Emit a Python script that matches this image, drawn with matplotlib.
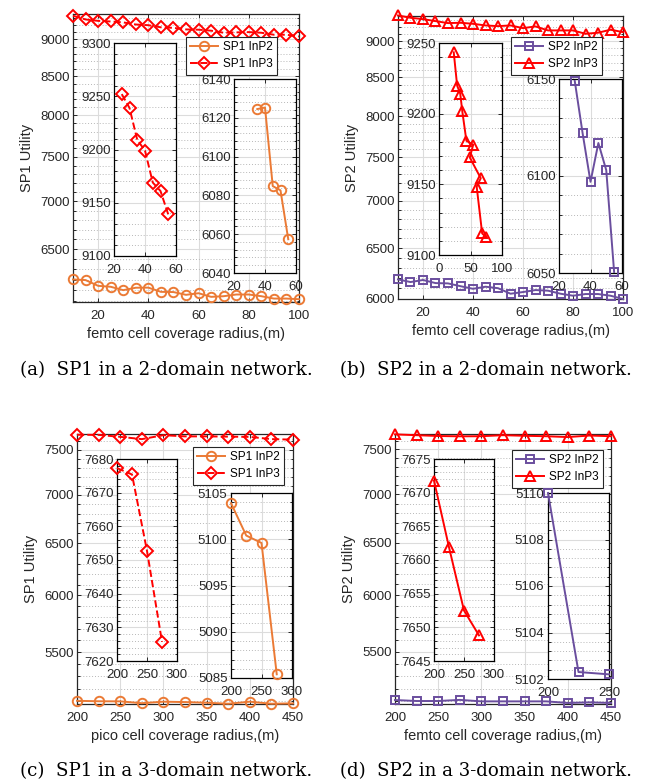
import matplotlib
matplotlib.use("Agg")
import matplotlib.pyplot as plt
from matplotlib.ticker import FixedLocator, NullFormatter, FuncFormatter

# ---- data ----
r_femto = [10, 15, 20, 25, 30, 35, 40, 45, 50, 55, 60, 65, 70, 75, 80, 85, 90, 95, 100]
r_big = [200, 225, 250, 275, 300, 325, 350, 375, 400, 425, 450]

a_inp2 = [6203, 6197, 6142, 6133, 6101, 6124, 6125, 6085, 6083, 6057, 6072, 6038,
          6044, 6060, 6060, 6044, 6022, 6022, 6016]
a_inp3 = [9334, 9281, 9261, 9252, 9239, 9209, 9199, 9169, 9161, 9139, 9135, 9121,
          9092, 9097, 9101, 9092, 9064, 9064, 9040]
b_inp2 = [6188, 6162, 6182, 6152, 6149, 6122, 6097, 6117, 6103, 6050, 6066, 6085,
          6079, 6050, 6031, 6047, 6047, 6031, 6000]
b_inp3 = [9370, 9336, 9316, 9287, 9258, 9263, 9248, 9224, 9214, 9224, 9185, 9210,
          9152, 9152, 9152, 9104, 9119, 9162, 9128]
c_inp2 = [5103.9, 5100.4, 5099.6, 5085.4, 5097, 5094, 5089, 5081, 5097, 5081, 5084]
c_inp3 = [7677.3, 7675.4, 7652.7, 7625.7, 7672, 7658, 7658, 7655, 7652, 7626, 7620]
d_inp2 = [5110, 5102.3, 5102.2, 5111, 5099.5, 5099.5, 5099.5, 5099.5, 5087, 5092, 5087]
d_inp3 = [7671.8, 7661.9, 7652.5, 7648.8, 7650, 7662, 7655, 7650, 7640, 7658, 7650]

# zoomed insets
a_zoom3_x = [25, 30, 35, 40, 45, 50, 55]
a_zoom3_y = [9252, 9239, 9209, 9199, 9169, 9161, 9139]
a_zoom2_x = [35, 40, 45, 50, 55]
a_zoom2_y = [6124.5, 6125.3, 6084.8, 6082.6, 6057.4]
b_zoom3_x = [23.4, 28.8, 33.7, 37, 43.5, 54.3, 48.9, 66.3, 59.8, 68.5, 75]
b_zoom3_y = [9243.4, 9219.8, 9214.2, 9201.6, 9180.8, 9178, 9169, 9154.3, 9148.4, 9115.3, 9112.5]
b_zoom2_x = [30, 35, 40, 45, 50, 55]
b_zoom2_y = [6149, 6122, 6097, 6117, 6103, 6050.5]
c_zoom3_x = [200, 225, 250, 275]
c_zoom3_y = [7677.3, 7675.4, 7652.7, 7625.7]
c_zoom2_x = [200, 225, 250, 275]
c_zoom2_y = [5103.9, 5100.4, 5099.6, 5085.4]
d_zoom3_x = [200, 225, 250, 275]
d_zoom3_y = [7671.8, 7661.9, 7652.5, 7648.8]
d_zoom2_x = [200, 225, 250]
d_zoom2_y = [5110, 5102.3, 5102.2]

ORANGE = "#EB7A35"
PURPLE = "#6A4E9E"
RED = "#FF0000"
DARK = "#262626"
MSIZE = {"o": 6.8, "D": 6.2, "s": 5.2, "^": 7.2}

plt.rcParams["font.family"] = ["Liberation Sans", "DejaVu Sans"]

W, H = 648, 784
fig = plt.figure(figsize=(W / 100, H / 100), dpi=100)


def add_box(l, t, r, b):
    return fig.add_axes([l / W, 1 - b / H, (r - l) / W, (b - t) / H])


def style(ax, xpad):
    for s in ax.spines.values():
        s.set_color(DARK)
        s.set_linewidth(0.9)
    ax.tick_params(which="both", direction="in", top=True, right=True,
                   colors=DARK, labelsize=9.5, length=3, width=0.7)
    ax.tick_params(axis="y", pad=2.5)
    ax.tick_params(axis="x", pad=xpad)
    ax.tick_params(which="minor", length=1.8)
    ax.grid(True, which="major", color="#dcdcdc", lw=0.8, ls="-")
    ax.grid(True, which="minor", axis="y", color="#b8b8b8", lw=0.7, ls=(0, (1, 2)))
    ax.set_axisbelow(True)


def fmt_int(v, p):
    return "%d" % round(v)


def main_axes(box, xs, y2, y3, ylim, yticks, xticks, xlim, sp, c2, m2, m3, ls3,
              ylab, xlab, legpos):
    ax = add_box(*box)
    ax.set_yscale("log")
    ax.plot(xs, y2, color=c2, marker=m2, mfc="none", ms=MSIZE[m2], mew=1.4, lw=1.4,
            clip_on=False, label=sp + " InP2", zorder=3)
    ax.plot(xs, y3, color=RED, marker=m3, mfc="none", ms=MSIZE[m3], mew=1.4, lw=1.4,
            ls=ls3, clip_on=False, label=sp + " InP3", zorder=3)
    ax.set_xlim(*xlim)
    ax.set_ylim(*ylim)
    ax.set_xticks(xticks)
    ax.yaxis.set_major_locator(FixedLocator(yticks))
    ax.yaxis.set_major_formatter(FuncFormatter(fmt_int))
    ax.yaxis.set_minor_locator(FixedLocator(list(range(5000, 9400, 100))))
    ax.yaxis.set_minor_formatter(NullFormatter())
    ax.xaxis.set_minor_locator(FixedLocator([]))
    style(ax, 5.5)
    ax.set_ylabel(ylab, fontsize=10.5, color=DARK, labelpad=4)
    ax.set_xlabel(xlab, fontsize=10.5, color=DARK, labelpad=4)
    leg = ax.legend(loc="upper left", bbox_to_anchor=(legpos[0] / W, 1 - legpos[1] / H),
                    bbox_transform=fig.transFigure, fontsize=8.5, fancybox=False,
                    framealpha=1, edgecolor=DARK, borderpad=0.35, handlelength=2.4,
                    handletextpad=0.4, labelspacing=0.45, borderaxespad=0)
    leg.get_frame().set_linewidth(0.8)
    return ax


def inset(box, xs, ys, color, marker, ls, xlim, ylim, xticks, yticks):
    ax = add_box(*box)
    ax.plot(xs, ys, color=color, marker=marker, mfc="none", ms=MSIZE[marker], mew=1.4,
            lw=1.4, ls=ls, clip_on=False, zorder=3)
    ax.set_xlim(*xlim)
    ax.set_ylim(*ylim)
    ax.set_xticks(xticks)
    ax.set_yticks(yticks)
    step = yticks[1] - yticks[0]
    minors = [yticks[0] + step * k / 5 for k in range(5 * (len(yticks) - 1) + 1)]
    ax.yaxis.set_minor_locator(FixedLocator(minors))
    ax.yaxis.set_major_formatter(FuncFormatter(fmt_int))
    style(ax, 6)
    for s in ax.spines.values():
        s.set_color("black")
    return ax


# (a)
main_axes((73, 14, 299, 302), r_femto, a_inp2, a_inp3, (5990, 9360),
          [6500, 7000, 7500, 8000, 8500, 9000], [20, 40, 60, 80, 100], (10, 100),
          "SP1", ORANGE, "o", "D", "--", "SP1 Utility", "femto cell coverage radius,(m)",
          (186, 37))
inset((114, 43, 176, 256), a_zoom3_x, a_zoom3_y, RED, "D", "--", (20, 60), (9100, 9300),
      [20, 40, 60], [9100, 9150, 9200, 9250, 9300])
inset((234, 79, 296, 273), a_zoom2_x, a_zoom2_y, ORANGE, "o", "-", (20, 60), (6040, 6140),
      [20, 40, 60], [6040, 6060, 6080, 6100, 6120, 6140])

# (b)
main_axes((398, 16, 623, 299), r_femto, b_inp2, b_inp3, (6000, 9362),
          [6000, 6500, 7000, 7500, 8000, 8500, 9000], [20, 40, 60, 80, 100], (10, 100),
          "SP2", PURPLE, "s", "^", "-", "SP2 Utility", "femto cell coverage radius,(m)",
          (511, 37))
inset((439, 43, 502, 255), b_zoom3_x, b_zoom3_y, RED, "^", "-", (0, 100), (9100, 9250),
      [0, 50, 100], [9100, 9150, 9200, 9250])
inset((559, 79, 622, 273), b_zoom2_x, b_zoom2_y, PURPLE, "s", "-", (20, 60), (6050, 6150),
      [20, 40, 60], [6050, 6100, 6150])

# (c)
main_axes((77, 434, 293, 704), r_big, c_inp2, c_inp3, (5079, 7686),
          [5500, 6000, 6500, 7000, 7500], [200, 250, 300, 350, 400, 450], (200, 450),
          "SP1", ORANGE, "o", "D", "--", "SP1 Utility", "pico cell coverage radius,(m)",
          (193, 447))
inset((117, 459, 177, 661), c_zoom3_x, c_zoom3_y, RED, "D", "--", (200, 300), (7620, 7680),
      [200, 250, 300], [7620, 7630, 7640, 7650, 7660, 7670, 7680])
inset((231, 493, 292, 678), c_zoom2_x, c_zoom2_y, ORANGE, "o", "-", (200, 300), (5085, 5105),
      [200, 250, 300], [5085, 5090, 5095, 5100, 5105])

# (d)
main_axes((395, 434, 611, 704), r_big, d_inp2, d_inp3, (5079, 7676),
          [5500, 6000, 6500, 7000, 7500], [200, 250, 300, 350, 400, 450], (200, 450),
          "SP2", PURPLE, "s", "^", "-", "SP2 Utility", "femto cell coverage radius,(m)",
          (512, 450))
inset((434, 459, 494, 661), d_zoom3_x, d_zoom3_y, RED, "^", "-", (200, 300), (7645, 7675),
      [200, 250, 300], [7645, 7650, 7655, 7660, 7665, 7670, 7675])
inset((548, 493, 609, 679), d_zoom2_x, d_zoom2_y, PURPLE, "s", "-", (200, 250), (5102, 5110),
      [200, 250], [5102, 5104, 5106, 5108, 5110])

# captions
renderer = fig.canvas.get_renderer()
captions = [("(a)  SP1 in a 2-domain network.", 166, 370),
            ("(b)  SP2 in a 2-domain network.", 486, 370),
            ("(c)  SP1 in a 3-domain network.", 166, 771),
            ("(d)  SP2 in a 3-domain network.", 486, 771)]
for txt, cx, cy in captions:
    t = fig.text(cx / W, 1 - cy / H, txt, ha="center", va="center",
                 family="DejaVu Serif", fontsize=11, color="black")
    w = t.get_window_extent(renderer).width
    t.set_fontsize(11 * 292 / w)

fig.savefig("out.png", dpi=100)
